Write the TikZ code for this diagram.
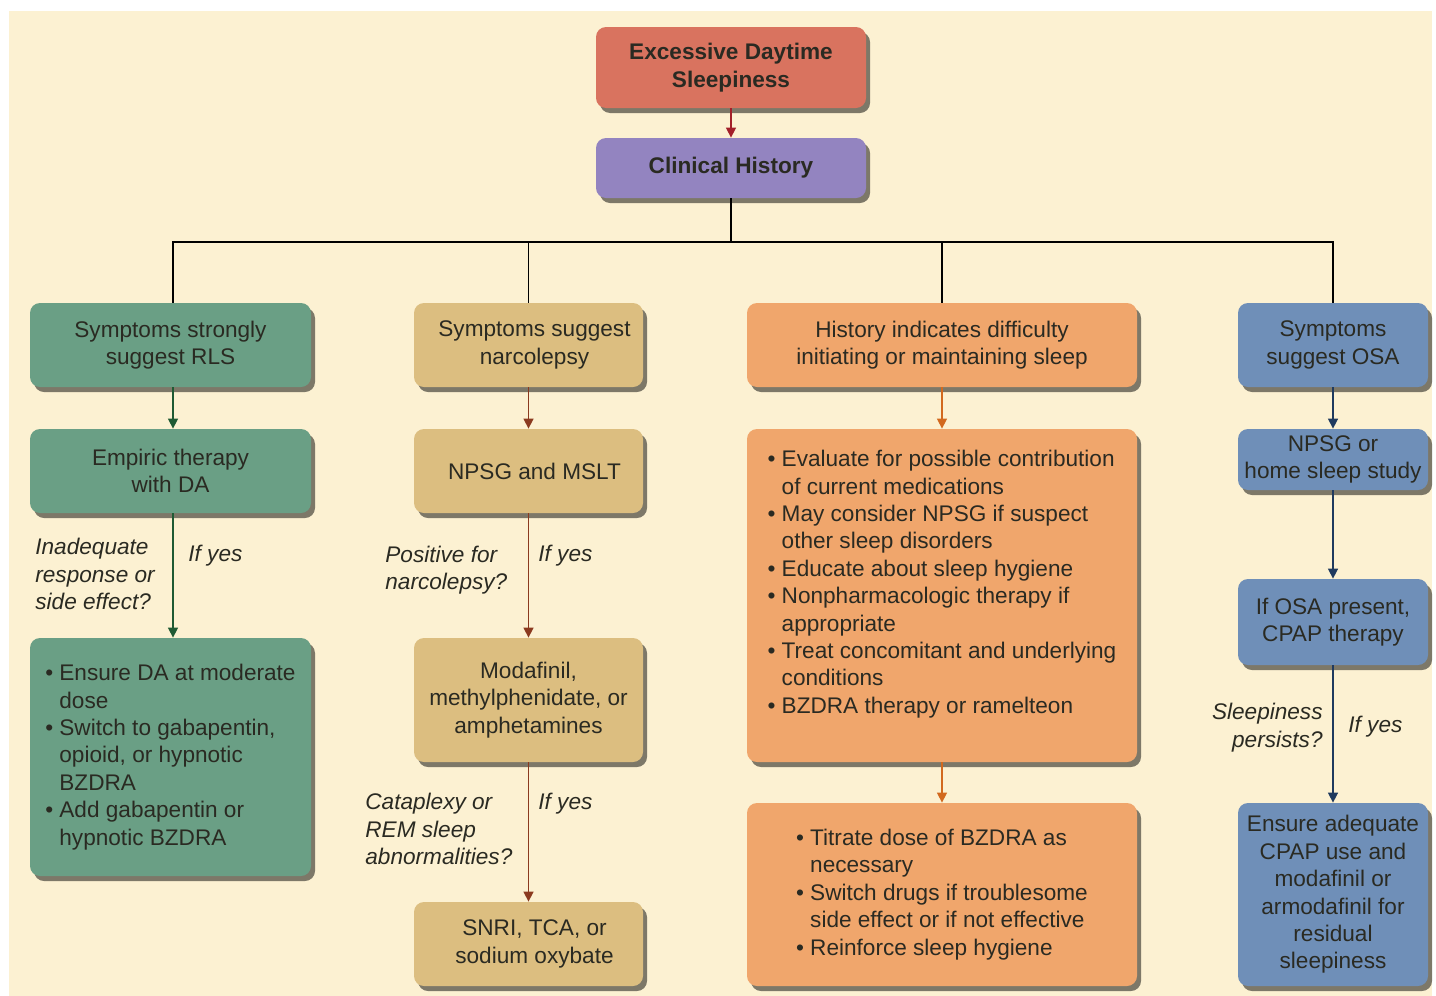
\documentclass[tikz,border=0pt]{standalone}
\usepackage{fontspec}
\setmainfont{Liberation Sans}
\usetikzlibrary{shadows,arrows.meta}
\definecolor{bg}{HTML}{FCF1D2}
\definecolor{txt}{HTML}{2A2A22}
\definecolor{cSalmon}{HTML}{D9735F}
\definecolor{cPurple}{HTML}{9384C0}
\definecolor{cGreen}{HTML}{6A9F85}
\definecolor{cTan}{HTML}{DCBE80}
\definecolor{cOrange}{HTML}{F0A66C}
\definecolor{cBlue}{HTML}{6F8FB8}
\definecolor{aRed}{HTML}{A3202A}
\definecolor{aGreen}{HTML}{1F5A33}
\definecolor{aBrown}{HTML}{8B3A1F}
\definecolor{aOrange}{HTML}{D2691E}
\definecolor{aBlue}{HTML}{1F3A5F}
\newcommand{\bitem}{\makebox[0.62em][l]{\textbullet}}
\newcommand{\citem}{\hspace*{0.62em}}
\begin{document}
\begin{tikzpicture}[x=0.5pt,y=-0.5pt,
  font=\fontsize{11.3pt}{13.7pt}\selectfont,
  box/.style={rounded corners=5pt, inner sep=0pt, align=center, text=txt,
    drop shadow={shadow xshift=2pt,shadow yshift=-2.5pt,fill=black,opacity=0.5}},
  listbox/.style={box, align=left},
  col1/.style={fill=cGreen, minimum width=140.5pt},
  col2/.style={fill=cTan, minimum width=114.5pt},
  col3/.style={fill=cOrange, minimum width=195pt},
  col4/.style={fill=cBlue, minimum width=95pt},
  h42/.style={minimum height=42pt},
  lbl/.style={font=\fontsize{11.3pt}{13.7pt}\selectfont\itshape, text=txt, inner sep=0pt},
  conn/.style={line width=0.75pt, draw=black},
  arr/.style={line width=0.75pt, -{Triangle[length=5pt,width=5pt]}}
]
\useasboundingbox (0,0) rectangle (1436,996);
\fill[white] (0,0) rectangle (1436,996);
\fill[bg] (9,11) rectangle (1432,996);

% top
\node[box, fill=cSalmon, minimum width=135pt, minimum height=40.5pt, font=\fontsize{11.3pt}{13.7pt}\selectfont\bfseries] (eds) at (731,67.5) {Excessive Daytime\\Sleepiness};
\node[box, fill=cPurple, minimum width=135pt, minimum height=30pt, font=\fontsize{11.3pt}{13.7pt}\selectfont\bfseries] (clin) at (731,168) {Clinical History};

% column 1
\node[box, col1, h42] (rls1) at (170.5,345) {Symptoms strongly\\suggest RLS};
\node[box, col1, h42] (rls2) at (170.5,471) {Empiric therapy\\with DA};
\node[listbox, col1, minimum height=119pt] (rls3) at (170.5,757) {\bitem Ensure DA at moderate\\\citem dose\\\bitem Switch to gabapentin,\\\citem opioid, or hypnotic\\\citem BZDRA\\\bitem Add gabapentin or\\\citem hypnotic BZDRA};

% column 2
\node[box, col2, h42] (nar1) at (528.5,345) {\hspace*{6pt}Symptoms suggest\\\hspace*{6pt}narcolepsy};
\node[box, col2, h42] (nar2) at (528.5,471) {\hspace*{6pt}NPSG and MSLT};
\node[box, col2, minimum height=62pt] (nar3) at (528.5,700) {Modafinil,\\methylphenidate, or\\amphetamines};
\node[box, col2, h42] (nar4) at (528.5,944) {\hspace*{6pt}SNRI, TCA, or\\\hspace*{6pt}sodium oxybate};

% column 3
\node[box, col3, h42] (ins1) at (942,345) {History indicates difficulty\\initiating or maintaining sleep};
\node[listbox, col3, minimum height=166.5pt] (ins2) at (942,595.5) {\bitem Evaluate for possible contribution\\\citem of current medications\\\bitem May consider NPSG if suspect\\\citem other sleep disorders\\\bitem Educate about sleep hygiene\\\bitem Nonpharmacologic therapy if\\\citem appropriate\\\bitem Treat concomitant and underlying\\\citem conditions\\\bitem BZDRA therapy or ramelteon\\\mbox{}};
\node[listbox, col3, minimum height=91.5pt] (ins3) at (942,894.5) {\bitem Titrate dose of BZDRA as\\\citem necessary\\\bitem Switch drugs if troublesome\\\citem side effect or if not effective\\\bitem Reinforce sleep hygiene};

% column 4
\node[box, col4, h42] (osa1) at (1333,345) {Symptoms\\suggest OSA};
\node[box, col4, minimum height=30.5pt] (osa2) at (1333,459.5) {NPSG or\\home sleep study};
\node[box, col4, minimum height=43pt] (osa3) at (1333,622) {If OSA present,\\CPAP therapy};
\node[box, col4, minimum height=91.5pt] (osa4) at (1333,894.5) {Ensure adequate\\CPAP use and\\modafinil or\\armodafinil for\\residual\\sleepiness};

% connectors
\draw[arr, aRed] (eds) -- (clin);
\coordinate (bus) at (731,242);
\draw[conn] (clin) -- (bus);
\draw[conn] ([xshift=1.25pt]rls1.north) -- ([xshift=1.25pt]rls1.north |- bus) -- (osa1.north |- bus) -- (osa1.north);
\draw[conn] (nar1.north) -- (nar1.north |- bus);
\draw[conn] (ins1.north) -- (ins1.north |- bus);

\draw[arr, aGreen] ([xshift=1.25pt]rls1.south) -- ([xshift=1.25pt]rls2.north);
\draw[arr, aGreen] ([xshift=1.25pt]rls2.south) -- ([xshift=1.25pt]rls3.north);
\draw[arr, aBrown] (nar1) -- (nar2);
\draw[arr, aBrown] (nar2) -- (nar3);
\draw[arr, aBrown] (nar3) -- (nar4);
\draw[arr, aOrange] (ins1) -- (ins2);
\draw[arr, aOrange] (ins2) -- (ins3);
\draw[arr, aBlue] (osa1) -- (osa2);
\draw[arr, aBlue] (osa2) -- (osa3);
\draw[arr, aBlue] (osa3) -- (osa4);

% edge labels
\node[lbl, anchor=west, align=left] (q1) at (35,574) {Inadequate\\response or\\side effect?};
\node[lbl, anchor=west] (y1) at (188,556) {If yes};
\node[lbl, anchor=west, align=left] (q2) at (385,570) {Positive for\\narcolepsy?};
\node[lbl, anchor=west] (y2) at (538,556) {If yes};
\node[lbl, anchor=west, align=left] (q3) at (365,829) {Cataplexy or\\REM sleep\\abnormalities?};
\node[lbl, anchor=west] (y3) at (538,804) {If yes};
\node[lbl, anchor=east, align=right] (q4) at (1323,727.5) {Sleepiness\\persists?};
\node[lbl, anchor=west] (y4) at (1348,727) {If yes};
\end{tikzpicture}
\end{document}
